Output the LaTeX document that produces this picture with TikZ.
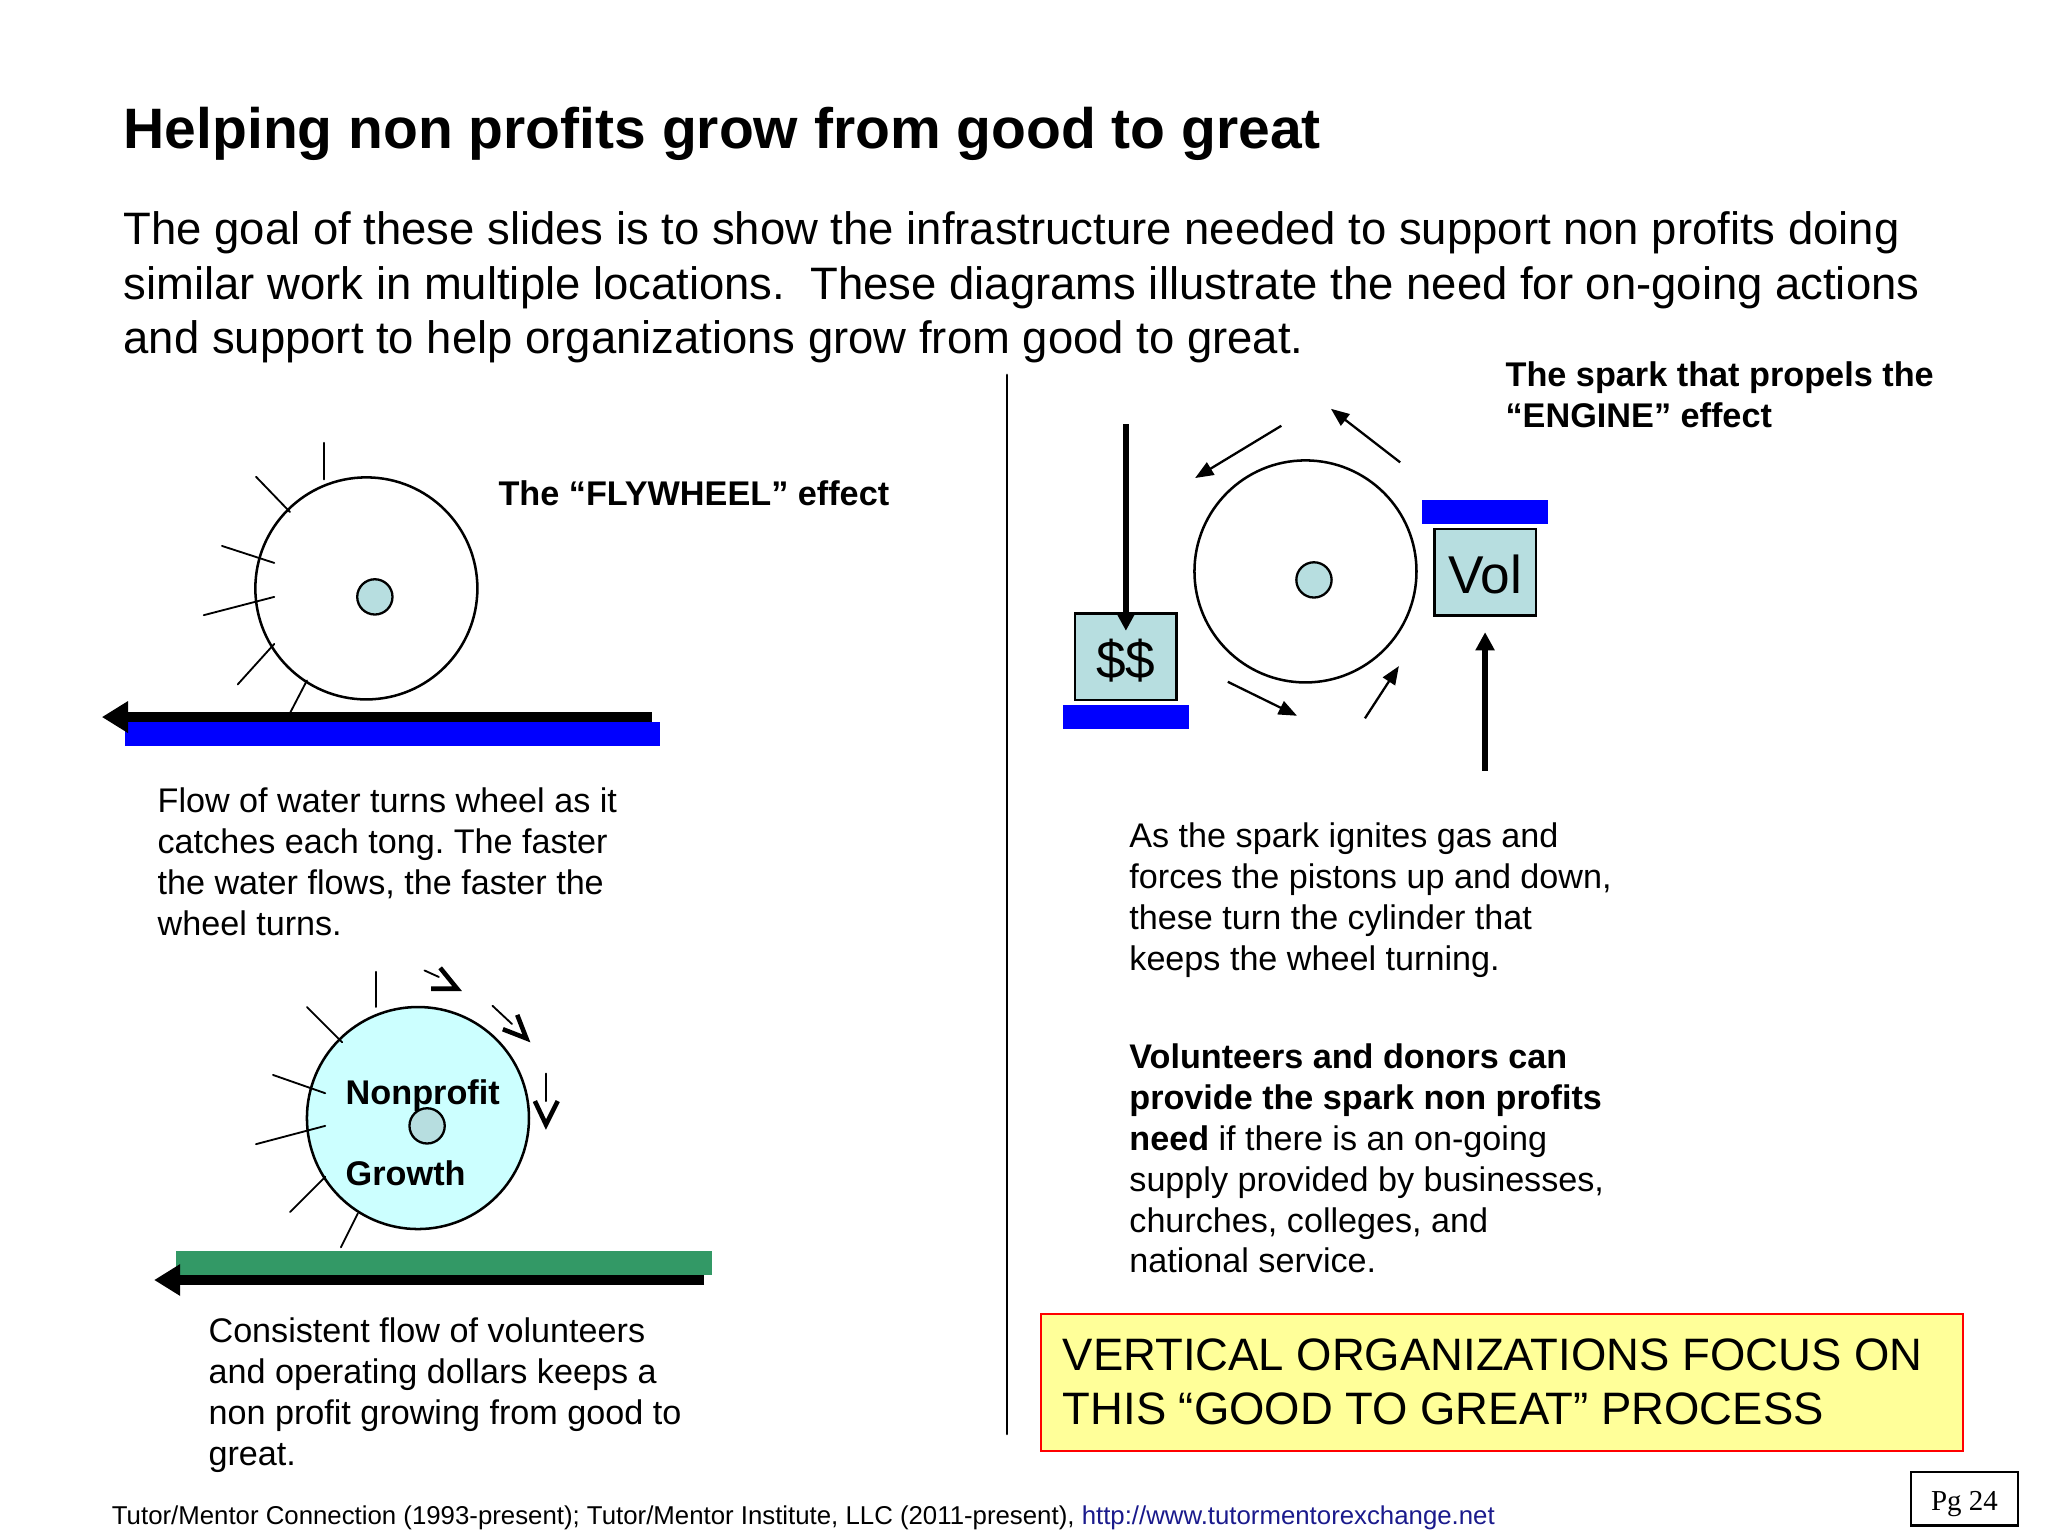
\documentclass[tikz,border=0pt]{standalone}
\usepackage{fontspec, tkz-euclide}
\usetikzlibrary{arrows.meta}
\setmainfont{Liberation Sans}
\newfontfamily\pagefont{Liberation Serif}
\definecolor{hubblue}{HTML}{B7DEE0}
\definecolor{wheelcyan}{HTML}{CCFFFF}
\definecolor{railgreen}{HTML}{339966}
\definecolor{noteyellow}{HTML}{FFFF99}
\definecolor{linknavy}{HTML}{1A1A8C}
\frenchspacing
\tikzset{>=stealth,
    wheel/.style={circle, draw, line width=0.55pt, minimum size=1.7cm, inner sep=0pt},
    hub/.style={circle, draw, fill=hubblue, line width=0.5pt, minimum size=0.27cm, inner sep=0pt},
    rail/.style={rectangle, fill=blue, inner sep=0pt, minimum height=0.18cm},
    piston/.style={rectangle, draw, fill=hubblue, line width=0.6pt, inner sep=0pt, minimum width=0.78cm, minimum height=0.66cm, font=\fontsize{11.6}{13}\selectfont},
    headline/.style={anchor=west, inner sep=0pt, font=\fontsize{12.42}{14}\selectfont\bfseries},
    bodytext/.style={anchor=west, inner sep=0pt, align=left, font=\fontsize{9.9}{11.8}\selectfont},
    smalltext/.style={anchor=west, inner sep=0pt, align=left, font=\fontsize{7.44}{8.9}\selectfont},
    boldtext/.style={smalltext, font=\fontsize{7.46}{8.9}\selectfont\bfseries},
    tong/.style={line width=0.4pt},
    thickflow/.style={line width=2pt, line cap=butt, -{Triangle[length=0.2cm, width=0.23cm]}},
    longflow/.style={line width=1.25pt, line cap=butt, -{Triangle[length=0.14cm, width=0.14cm]}},
    spin/.style={line width=0.5pt, line cap=butt, -{Triangle[length=0.14cm, width=0.11cm]}},
    barb/.style={line width=1pt, line cap=butt}
}
\begin{document}
\begin{tikzpicture}
    \useasboundingbox (0,0) rectangle (15.68,-11.76);
    % heading
    \node[headline] (title) at (0.94,-1.023) {Helping non profits grow from good to great};
    \node[bodytext] (intro) at (0.94,-2.20) {The goal of these slides is to show the infrastructure needed to support non profits doing\\
      similar work in multiple locations.~ These diagrams illustrate the need for on-going actions\\
      and support to help organizations grow from good to great.};
    \tkzDefPoints{7.71/-2.87/P, 7.71/-10.98/Q}
    \tkzDrawSegments[line width=0.5pt](P,Q)

    % flywheel
    \node[wheel] (fly) at (2.805,-4.505) {};
    \node[hub] (flyhub) at (2.87,-4.57) {};
    \tkzDefPoints{2.48/-3.39/a1, 2.48/-3.67/a2, 1.96/-3.65/b1, 2.22/-3.92/b2, 1.70/-4.18/c1, 2.10/-4.31/c2,
      1.56/-4.71/d1, 2.10/-4.57/d2, 1.82/-5.24/e1, 2.10/-4.93/e2, 2.22/-5.46/f1, 2.35/-5.21/f2}
    \tkzDrawSegments[tong](a1,a2 b1,b2 c1,c2 d1,d2 e1,e2 f1,f2)
    \node[rail, minimum width=4.09cm] (flyrail) at (3.005,-5.62) {};
    \tkzDefPoints{4.99/-5.49/g1, 0.78/-5.49/g2}
    \tkzDrawSegments[thickflow](g1,g2)
    \node[boldtext] (flyname) at (3.81,-3.78) {The “FLYWHEEL” effect};
    \node[smalltext] (flytext) at (1.20,-6.60) {Flow of water turns wheel as it\\catches each tong. The faster\\the water flows, the faster the\\wheel turns.};

    % growth wheel
    \node[wheel, fill=wheelcyan] (grow) at (3.20,-8.56) {};
    \node[hub] (growhub) at (3.27,-8.62) {};
    \node[boldtext] (growa) at (2.64,-8.385) {Nonprofit};
    \node[boldtext] (growb) at (2.64,-8.98) {Growth};
    \tkzDefPoints{2.88/-7.44/h1, 2.88/-7.71/h2, 2.35/-7.71/i1, 2.62/-7.98/i2, 2.09/-8.23/j1, 2.49/-8.37/j2,
      1.96/-8.76/k1, 2.49/-8.62/k2, 2.22/-9.28/l1, 2.49/-9.01/l2, 2.61/-9.55/m1, 2.74/-9.29/m2}
    \tkzDrawSegments[tong](h1,h2 i1,i2 j1,j2 k1,k2 l1,l2 m1,m2)
    \tkzDefPoints{3.25/-7.43/n1, 3.36/-7.48/n2, 3.50/-7.57/n3, 3.37/-7.41/n4, 3.30/-7.57/n5,
      3.77/-7.70/o1, 3.92/-7.84/o2, 4.03/-7.95/o3, 3.96/-7.77/o4, 3.85/-7.88/o5,
      4.18/-8.22/q1, 4.18/-8.43/q2, 4.18/-8.61/q3, 4.095/-8.43/q4, 4.27/-8.43/q5}
    \tkzDrawSegments[tong](n1,n2 o1,o2 q1,q2)
    \draw[barb] (n4) -- (n3) -- (n5);
    \draw[barb] (o4) -- (o3) -- (o5);
    \draw[barb] (q4) -- (q3) -- (q5);
    \node[rail, fill=railgreen, minimum width=4.10cm] (growrail) at (3.40,-9.67) {};
    \tkzDefPoints{5.39/-9.80/r1, 1.18/-9.80/r2}
    \tkzDrawSegments[thickflow](r1,r2)
    \node[smalltext] (growtext) at (1.59,-10.68) {Consistent flow of volunteers\\and operating dollars keeps a\\non profit growing from good to\\great.};

    % engine
    \node[wheel] (engine) at (9.995,-4.375) {};
    \node[hub] (enginehub) at (10.06,-4.44) {};
    \node[piston] (money) at (8.62,-5.03) {\raisebox{-0.03cm}[\height][\depth]{\$\$}};
    \node[rail, minimum width=0.96cm] (moneyrail) at (8.62,-5.49) {};
    \node[piston] (vol) at (11.37,-4.38) {\raisebox{-0.02cm}[\height][\depth]{Vol}};
    \node[rail, minimum width=0.96cm] (volrail) at (11.37,-3.92) {};
    \tkzDefPoints{8.62/-3.25/s1, 8.62/-4.83/s2, 11.37/-5.90/t1, 11.37/-4.84/t2,
      10.72/-3.54/u1, 10.19/-3.13/u2, 9.81/-3.26/v1, 9.15/-3.66/v2,
      9.40/-5.22/w1, 9.93/-5.48/w2, 10.45/-5.50/y1, 10.71/-5.10/y2}
    \tkzDrawSegments[longflow](s1,s2 t1,t2)
    \tkzDrawSegments[spin](u1,u2 v1,v2 w1,w2 y1,y2)
    \node[boldtext] (sparkname) at (11.52,-3.025) {The spark that propels the\\“ENGINE” effect};
    \node[smalltext] (sparktext) at (8.64,-6.89) {As the spark ignites gas and\\forces the pistons up and down,\\these turn the cylinder that\\keeps the wheel turning.};
    \node[smalltext] (donortext) at (8.64,-8.87) {\textbf{Volunteers and donors can}\\\textbf{provide the spark non profits}\\\textbf{need} if there is an on-going\\supply provided by businesses,\\churches, colleges, and\\national service.};

    % footer
    \node[rectangle, draw=red, fill=noteyellow, line width=0.5pt, inner sep=0pt, minimum width=7.06cm, minimum height=1.05cm] (note) at (11.50,-10.585) {};
    \node[bodytext] (notetext) at (8.13,-10.58) {VERTICAL ORGANIZATIONS FOCUS ON\\THIS “GOOD TO GREAT” PROCESS};
    \node[anchor=west, inner sep=0pt, font=\fontsize{5.62}{7}\selectfont] (source) at (0.85,-11.62) {Tutor/Mentor Connection (1993-present); Tutor/Mentor Institute, LLC (2011-present), \textcolor{linknavy}{http://www.tutormentorexchange.net}};
    \node[rectangle, draw, line width=0.5pt, inner sep=0pt, minimum width=0.82cm, minimum height=0.41cm, font=\pagefont\fontsize{6.3}{7}\selectfont] (page) at (15.04,-11.475) {\raisebox{-0.04cm}[\height][\depth]{Pg 24}};
\end{tikzpicture}
\end{document}
